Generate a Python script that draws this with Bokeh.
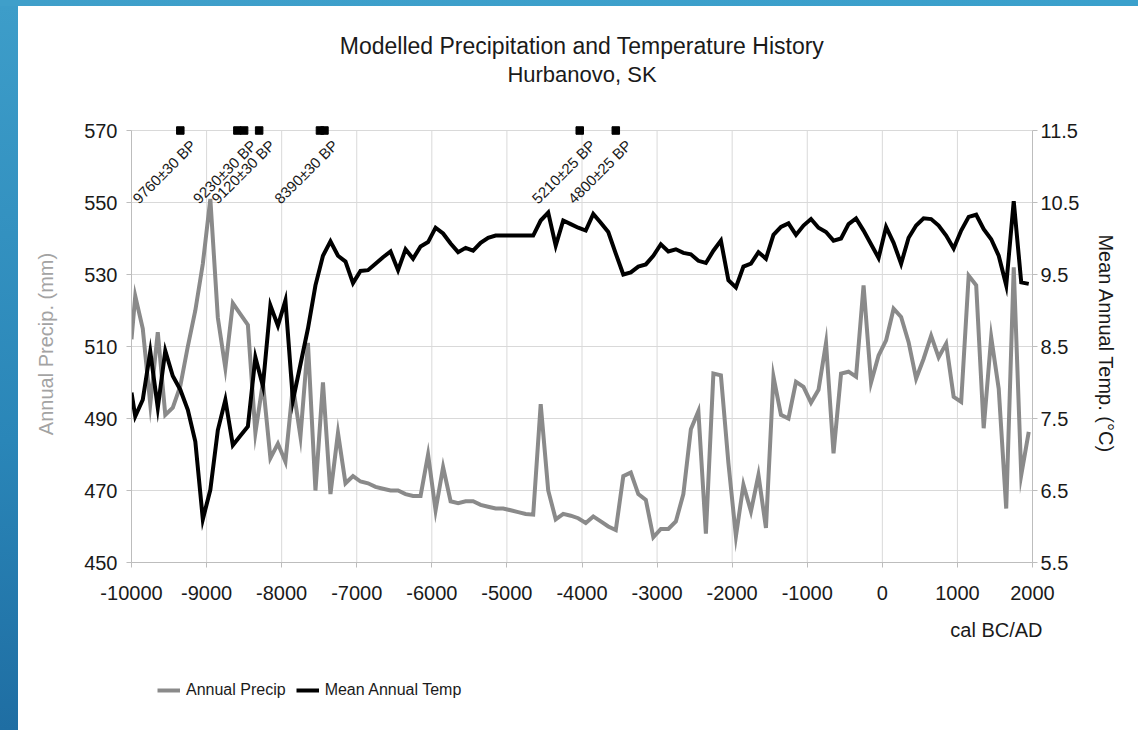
import math
from bokeh.plotting import figure
from bokeh.models import (Range1d, LinearAxis, FixedTicker, Title, Legend,
                          LegendItem, Div)
from bokeh.layouts import column, row
from bokeh.embed import file_html
from bokeh.resources import INLINE
from bokeh.core.properties import value

FONT = "Liberation Sans"

# ---------------- data ----------------
years = [-10000, -9950, -9850, -9750, -9650, -9550, -9450, -9350, -9250, -9150,
         -9050, -8950, -8850, -8750, -8650, -8550, -8450, -8350, -8250, -8150,
         -8050, -7950, -7850, -7750, -7650, -7550, -7450, -7350, -7250, -7150,
         -7050, -6950, -6850, -6750, -6650, -6550, -6450, -6350, -6250, -6150,
         -6050, -5950, -5850, -5750, -5650, -5550, -5450, -5350, -5250, -5150,
         -5050, -4950, -4850, -4750, -4650, -4550, -4450, -4350, -4250, -4150,
         -4050, -3950, -3850, -3750, -3650, -3550, -3450, -3350, -3250, -3150,
         -3050, -2950, -2850, -2750, -2650, -2550, -2450, -2350, -2250, -2150,
         -2050, -1950, -1850, -1750, -1650, -1550, -1450, -1350, -1250, -1150,
         -1050, -950, -850, -750, -650, -550, -450, -350, -250, -150,
         -50, 50, 150, 250, 350, 450, 550, 650, 750, 850,
         950, 1050, 1150, 1250, 1350, 1450, 1550, 1650, 1750, 1850,
         1950]

annual_precip = [512, 524, 515, 494, 514, 491, 493, 499, 510, 520,
                 533, 551, 518, 504, 522, 519, 516, 486, 500, 479,
                 483, 478, 499, 485, 511, 470, 500, 469, 486, 472,
                 474, 472.5, 472, 471, 470.5, 470, 470, 469, 468.5, 468.5,
                 480, 464.5, 476.5, 467, 466.5, 467, 467, 466, 465.5, 465,
                 465, 464.5, 464, 463.5, 463.3, 494, 470, 462, 463.5, 463,
                 462.3, 461, 462.8, 461.4, 460, 459, 474, 475, 469, 467.4,
                 457, 459.3, 459.3, 461.4, 469, 487, 492, 458, 502.5, 502,
                 477.6, 457.3, 471.6, 464.2, 474.3, 459.6, 501.6, 491, 490, 500.2,
                 498.8, 494.4, 498, 511, 480.3, 502.5, 503, 501.6, 527, 500,
                 507.5, 511.7, 520.5, 518.2, 511.2, 501.1, 506.6, 513, 507, 510.8,
                 496, 494.6, 529.7, 527, 487.3, 512.6, 498.3, 465, 532, 474.3,
                 486.3]

mean_annual_temp = [7.86, 7.53, 7.76, 8.43, 7.65, 8.44, 8.09, 7.9, 7.62, 7.18,
                    6.1, 6.51, 7.34, 7.76, 7.13, 7.26, 7.39, 8.35, 7.95, 9.07,
                    8.79, 9.14, 7.75, 8.25, 8.75, 9.35, 9.76, 9.96, 9.76, 9.68,
                    9.38, 9.55, 9.56, 9.65, 9.74, 9.82, 9.56, 9.85, 9.72, 9.89,
                    9.95, 10.15, 10.07, 9.93, 9.81, 9.87, 9.83, 9.94, 10.01, 10.04,
                    10.04, 10.04, 10.04, 10.04, 10.04, 10.25, 10.36, 9.9, 10.25, 10.2,
                    10.15, 10.11, 10.34, 10.22, 10.09, 9.79, 9.5, 9.53, 9.61, 9.64,
                    9.76, 9.92, 9.82, 9.85, 9.8, 9.78, 9.69, 9.66, 9.83, 9.97,
                    9.42, 9.32, 9.61, 9.65, 9.81, 9.72, 10.05, 10.16, 10.21, 10.05,
                    10.18, 10.27, 10.15, 10.09, 9.97, 10.0, 10.2, 10.28, 10.11, 9.92,
                    9.73, 10.16, 9.94, 9.65, 10.01, 10.18, 10.28, 10.27, 10.18, 10.04,
                    9.86, 10.11, 10.3, 10.33, 10.13, 9.99, 9.76, 9.35, 10.52, 9.39,
                    9.37]

# radiocarbon date markers (cal BC/AD) along the top of the chart
marker_years = [-9350, -8590, -8500, -8300, -7490, -7430, -4030, -3550]
marker_level = [570, 570, 570, 570, 570, 570, 570, 570]
label_years = [-9350, -8545, -8300, -7460, -4030, -3550]
label_level = [570, 570, 570, 570, 570, 570]
label_texts = ["9760\u00b130 BP", "9230\u00b130 BP", "9120\u00b130 BP",
               "8390\u00b130 BP", "5210\u00b125 BP", "4800\u00b125 BP"]

x_ticks = [-10000, -9000, -8000, -7000, -6000, -5000, -4000, -3000, -2000,
           -1000, 0, 1000, 2000]
precip_ticks = [450, 470, 490, 510, 530, 550, 570]
temp_ticks = [5.5, 6.5, 7.5, 8.5, 9.5, 10.5, 11.5]
grid_bottom = [450] * len(x_ticks)
grid_top = [570] * len(x_ticks)

if not (len(years) == len(annual_precip) == len(mean_annual_temp)):
    raise SystemExit("length mismatch %d %d %d" % (len(years), len(annual_precip), len(mean_annual_temp)))

# ---------------- layout constants ----------------
STRIPE_W = 18          # blue slide stripe on the left
TOP_BAND = 6           # blue slide band on top
FIG_W = 1130 - STRIPE_W
LEFT_B = 131 - STRIPE_W
RIGHT_B = FIG_W - LEFT_B - 901
PAD = 5                # room above the 570 line for the date markers
PLOT_H = 432

# ---------------- header with the two title lines ----------------
header = figure(width=FIG_W, height=84, min_border_left=LEFT_B, min_border_right=RIGHT_B,
                min_border_top=52, min_border_bottom=31,
                x_axis_location=None, y_axis_location=None,
                output_backend="svg", toolbar_location=None, title=None)
header.outline_line_color = None
header.grid.visible = False
header.border_fill_color = "white"
header.background_fill_color = "white"
header.add_layout(Title(text="Modelled Precipitation and Temperature History",
                        align="center", text_font=FONT, text_font_size="23px",
                        text_font_style="normal", text_color="#1a1a1a",
                        standoff=0), "above")
header.add_layout(Title(text="Hurbanovo, SK", align="center", text_font=FONT,
                        text_font_size="22px", text_font_style="normal",
                        text_color="#1a1a1a", standoff=0), "below")

# ---------------- main chart ----------------
y_top = 570 + (570 - 450) * PAD / PLOT_H
t_top = 11.5 + (11.5 - 5.5) * PAD / PLOT_H
p = figure(frame_width=901, frame_height=PLOT_H + PAD,
           min_border_left=LEFT_B, min_border_right=RIGHT_B,
           min_border_top=35, min_border_bottom=100,
           x_range=Range1d(-10000, 2000), y_range=Range1d(450, y_top),
           output_backend="svg", toolbar_location=None, title=None)
p.background_fill_color = "white"
p.border_fill_color = "white"
p.outline_line_color = None
p.extra_y_ranges = {"temp": Range1d(5.5, t_top)}

right_axis = LinearAxis(y_range_name="temp", ticker=FixedTicker(ticks=temp_ticks),
                        axis_label="Mean Annual Temp. (\u00b0C)", bounds=(5.5, 11.5))
p.add_layout(right_axis, "right")

p.xaxis.ticker = FixedTicker(ticks=x_ticks)
p.xaxis.major_label_overrides = {t: str(t) for t in x_ticks}
p.yaxis[0].ticker = FixedTicker(ticks=precip_ticks)
p.yaxis[0].bounds = (450, 570)
p.xgrid.visible = False
p.ygrid.ticker = FixedTicker(ticks=precip_ticks)
p.ygrid.grid_line_color = "#d9d9d9"
p.ygrid.grid_line_width = 1

# vertical grid lines, stopping at the 570 line
p.segment(x0=x_ticks, y0=grid_bottom, x1=x_ticks, y1=grid_top,
          line_color="#d9d9d9", line_width=1, level="underlay")

for ax in p.axis:
    ax.axis_line_color = "#bdbdbd"
    ax.major_tick_line_color = "#bdbdbd"
    ax.minor_tick_line_color = None
    ax.major_tick_in = 0
    ax.major_tick_out = 5
    ax.major_label_text_font = FONT
    ax.major_label_text_font_size = "20px"
    ax.major_label_text_color = "#1a1a1a"
    ax.axis_label_text_font = FONT
    ax.axis_label_text_font_size = "20px"
    ax.axis_label_text_font_style = "normal"

p.xaxis.major_label_standoff = 18
left = p.yaxis[0]
left.axis_label = "Annual Precip. (mm)"
left.axis_label_text_color = "#a3a3a3"
left.major_label_standoff = 9
left.axis_label_standoff = 24
right_axis.major_label_standoff = 3
right_axis.axis_label_standoff = 13
right_axis.axis_label_text_color = "#1a1a1a"

r_p = p.line(years, annual_precip, line_color="#8a8a8a", line_width=4, line_join="miter")
r_t = p.line(years, mean_annual_temp, y_range_name="temp", line_color="#000000",
             line_width=4, line_join="miter")

p.scatter(marker_years, marker_level, marker="square", size=7.5,
          fill_color="black", line_color="black")
p.text(label_years, label_level, text=label_texts, angle=math.pi / 4,
       text_align="right", text_baseline="middle", x_offset=13, y_offset=12,
       text_font=value(FONT), text_font_size="15px", text_color="#1a1a1a")

xt = Title(text="cal BC/AD", align="right", offset=-10, text_font=FONT,
           text_font_size="20px", text_font_style="normal", text_color="#1a1a1a",
           standoff=28)
p.add_layout(xt, "below")

# ---------------- legend strip ----------------
leg = figure(width=FIG_W, height=61, min_border=0,
             x_axis_location=None, y_axis_location=None,
             x_range=Range1d(0, 1), y_range=Range1d(0, 1),
             output_backend="svg", toolbar_location=None, title=None)
leg.outline_line_color = None
leg.grid.visible = False
# same series drawn far outside this strip's ranges: only their legend swatches show
lp = leg.line(years, annual_precip, line_color="#8a8a8a", line_width=4)
lt = leg.line(years, mean_annual_temp, line_color="#000000", line_width=4)
legend = Legend(items=[LegendItem(label="Annual Precip", renderers=[lp]),
                       LegendItem(label="Mean Annual Temp", renderers=[lt])],
                orientation="horizontal", location=(157 - 131, 23),
                label_text_font=FONT, label_text_font_size="16px",
                label_text_color="#1a1a1a", glyph_width=23, label_standoff=6,
                spacing=10, border_line_color=None, background_fill_alpha=0,
                padding=0, margin=0)
leg.add_layout(legend)

top_band = Div(text="", width=1138, height=TOP_BAND, margin=(0, 0, 0, 0),
               styles={"background": "linear-gradient(to right, #3f9fca, #3aa0cc)"})
stripe = Div(text="", width=STRIPE_W, height=724, margin=(0, 0, 0, 0),
             styles={"background": "linear-gradient(to bottom, #3d9dc9, #2a86b8 60%, #1f6ea3)"})

layout = column(top_band, row(stripe, column(header, p, leg, spacing=0), spacing=0), spacing=0)

open("out.html", "w").write(file_html(layout, INLINE))
